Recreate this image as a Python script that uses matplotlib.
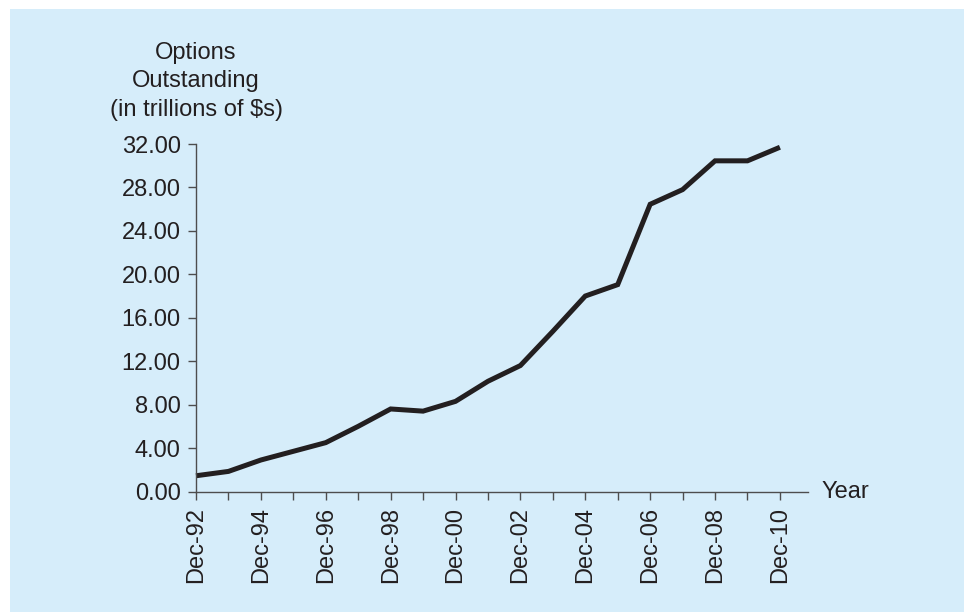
#! /usr/bin/env python

import matplotlib.pyplot as plt
from matplotlib.patches import Rectangle

plt.rcParams["font.family"] = ["Liberation Sans", "DejaVu Sans"]

# Options outstanding at each December, trillions of $
years = list(range(1992, 2011))
outstanding = [1.45, 1.85, 2.9, 3.7, 4.5, 6.0, 7.6, 7.4, 8.3, 10.15,
               11.6, 14.75, 18.0, 19.05, 26.45, 27.8, 30.45, 30.45, 31.7]
tick_labels = ["Dec-%02d" % (y % 100) if y % 2 == 0 else "" for y in years]
y_ticks = [0, 4, 8, 12, 16, 20, 24, 28, 32]

text_col = "#231F20"
bg_col = "#D6EDFA"
fs = 17

fig = plt.figure(figsize=(9.64, 6.12), dpi=100)
fig.patch.set_facecolor("white")
fig.patches.append(Rectangle((10 / 964, 0), 1, 1 - 9 / 612,
                             transform=fig.transFigure, facecolor=bg_col,
                             edgecolor="none", zorder=-1))

ax = fig.add_axes([196 / 964, 1 - 491.5 / 612, 612 / 964, 347.5 / 612])
ax.set_facecolor("none")

ax.plot(years, outstanding, color=text_col, lw=3.6, solid_joinstyle="miter",
        solid_capstyle="butt", clip_on=False)

ax.set_xlim(1992, 1992 + 612 / 32.44)
ax.set_ylim(0, 32)
ax.set_xticks(years)
ax.set_xticklabels(tick_labels, rotation=90, fontsize=fs, color=text_col)
ax.set_yticks(y_ticks)
ax.set_yticklabels(["%.2f" % v for v in y_ticks], fontsize=fs, color=text_col)
ax.tick_params(axis="both", direction="out", length=6, width=1, color="#4D4D4D")
ax.tick_params(axis="x", pad=5)
ax.tick_params(axis="y", pad=5)

for side in ["top", "right"]:
    ax.spines[side].set_visible(False)
for side in ["left", "bottom"]:
    ax.spines[side].set_color("#4D4D4D")
    ax.spines[side].set_linewidth(1)

fig.text(196 / 964, 1 - 42 / 612, "Options\nOutstanding\n(in trillions of $s)",
         ha="center", va="top", fontsize=fs, color=text_col, linespacing=1.38)
fig.text(822 / 964, 1 - 491.5 / 612, "Year", ha="left", va="center",
         fontsize=fs, color=text_col)

plt.savefig("out.png", dpi=100, facecolor=fig.get_facecolor())
